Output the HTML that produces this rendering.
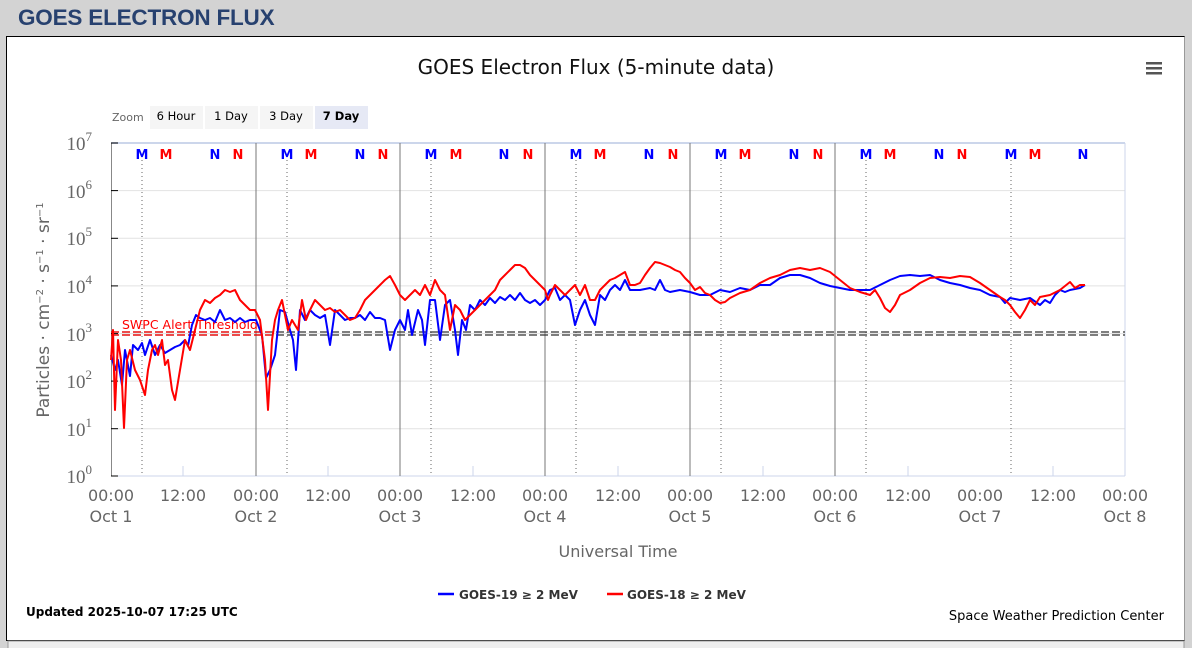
<!DOCTYPE html>
<html><head><meta charset="utf-8"><style>
body{margin:0;width:1192px;height:648px;background:#d3d3d3;overflow:hidden;font-family:"Liberation Sans",sans-serif;position:relative}
.hdr{position:absolute;left:18px;top:5px;font-size:22.5px;font-weight:bold;color:#27416f;letter-spacing:-0.2px}
.panel{position:absolute;left:6px;top:36px;width:1177px;height:603px;background:#fff;border:1px solid #000;border-right:1px solid #999}
svg{position:absolute;left:0;top:0}
</style></head><body>
<div class="hdr">GOES ELECTRON FLUX</div>
<div class="panel"></div>
<svg width="1192" height="648" font-family="DejaVu Sans, sans-serif">
<rect x="8" y="641" width="1176" height="10" fill="#eee" stroke="#999"/>
<text x="596" y="74" text-anchor="middle" font-size="20" fill="#111">GOES Electron Flux (5-minute data)</text>
<g fill="#555"><rect x="1146" y="62" width="16" height="2.5"/><rect x="1146" y="67" width="16" height="2.5"/><rect x="1146" y="72" width="16" height="2.5"/></g>
<text x="112" y="121" font-size="11" fill="#666">Zoom</text>
<rect x="150" y="106" width="53" height="23" fill="#f5f5f5"/><text x="176" y="120" font-size="11.5" text-anchor="middle">6 Hour</text>
<rect x="205" y="106" width="53" height="23" fill="#f5f5f5"/><text x="231" y="120" font-size="11.5" text-anchor="middle">1 Day</text>
<rect x="260" y="106" width="53" height="23" fill="#f5f5f5"/><text x="286" y="120" font-size="11.5" text-anchor="middle">3 Day</text>
<rect x="315" y="106" width="53" height="23" fill="#e6e9f5"/><text x="341" y="120" font-size="11.5" text-anchor="middle" font-weight="bold">7 Day</text>
<g stroke="#e2e2e2" stroke-width="1">
<line x1="111" x2="1125" y1="190.6" y2="190.6"/><line x1="111" x2="1125" y1="238.3" y2="238.3"/><line x1="111" x2="1125" y1="285.9" y2="285.9"/><line x1="111" x2="1125" y1="333.6" y2="333.6"/><line x1="111" x2="1125" y1="381.1" y2="381.1"/><line x1="111" x2="1125" y1="428.7" y2="428.7"/>
</g>
<line x1="111" x2="1125" y1="143" y2="143" stroke="#ccd6eb" stroke-width="2"/>
<line x1="111" x2="1125" y1="476" y2="476" stroke="#ccd6eb" stroke-width="1"/>
<line x1="1125" x2="1125" y1="143" y2="476" stroke="#ccd6eb"/>
<line x1="111.5" x2="111.5" y1="143" y2="476" stroke="#888"/>
<g stroke="#000"><line x1="111" x2="118" y1="143" y2="143"/><line x1="111" x2="118" y1="190.6" y2="190.6"/><line x1="111" x2="118" y1="238.3" y2="238.3"/><line x1="111" x2="118" y1="285.9" y2="285.9"/><line x1="111" x2="118" y1="333.6" y2="333.6"/><line x1="111" x2="118" y1="381.1" y2="381.1"/><line x1="111" x2="118" y1="428.7" y2="428.7"/><line x1="111" x2="118" y1="476" y2="476"/></g>
<g stroke="#777"><line x1="256" x2="256" y1="143" y2="476"/><line x1="400" x2="400" y1="143" y2="476"/><line x1="545" x2="545" y1="143" y2="476"/><line x1="690" x2="690" y1="143" y2="476"/><line x1="835" x2="835" y1="143" y2="476"/></g>
<g stroke="#666" stroke-dasharray="1,3"><line x1="142" x2="142" y1="160" y2="476"/><line x1="287" x2="287" y1="160" y2="476"/><line x1="431" x2="431" y1="160" y2="476"/><line x1="576" x2="576" y1="160" y2="476"/><line x1="721" x2="721" y1="160" y2="476"/><line x1="866" x2="866" y1="160" y2="476"/><line x1="1011" x2="1011" y1="160" y2="476"/></g>
<g stroke="#ccd6eb"><line x1="183" x2="183" y1="476" y2="466"/><line x1="328" x2="328" y1="476" y2="466"/><line x1="473" x2="473" y1="476" y2="466"/><line x1="618" x2="618" y1="476" y2="466"/><line x1="763" x2="763" y1="476" y2="466"/><line x1="908" x2="908" y1="476" y2="466"/><line x1="1053" x2="1053" y1="476" y2="466"/></g>
<g font-size="13" font-weight="bold" text-anchor="middle">
<text x="142" y="159" fill="#00f">M</text><text x="166" y="159" fill="red">M</text><text x="215" y="159" fill="#00f">N</text><text x="238" y="159" fill="red">N</text>
<text x="287" y="159" fill="#00f">M</text><text x="311" y="159" fill="red">M</text><text x="360" y="159" fill="#00f">N</text><text x="383" y="159" fill="red">N</text>
<text x="431" y="159" fill="#00f">M</text><text x="456" y="159" fill="red">M</text><text x="504" y="159" fill="#00f">N</text><text x="528" y="159" fill="red">N</text>
<text x="576" y="159" fill="#00f">M</text><text x="600" y="159" fill="red">M</text><text x="649" y="159" fill="#00f">N</text><text x="673" y="159" fill="red">N</text>
<text x="721" y="159" fill="#00f">M</text><text x="745" y="159" fill="red">M</text><text x="794" y="159" fill="#00f">N</text><text x="818" y="159" fill="red">N</text>
<text x="866" y="159" fill="#00f">M</text><text x="890" y="159" fill="red">M</text><text x="939" y="159" fill="#00f">N</text><text x="962" y="159" fill="red">N</text>
<text x="1011" y="159" fill="#00f">M</text><text x="1035" y="159" fill="red">M</text><text x="1083" y="159" fill="#00f">N</text>
</g>
<g stroke-dasharray="8,3" stroke-width="1.2"><line x1="111" x2="1125" y1="332" y2="332" stroke="#333"/><line x1="111" x2="1125" y1="335" y2="335" stroke="#333"/><line x1="111" x2="270" y1="332" y2="332" stroke="red"/><line x1="111" x2="270" y1="335" y2="335" stroke="red"/></g>
<text x="122" y="329" font-size="12.5" fill="red">SWPC Alert Threshold</text>
<polyline fill="none" stroke="#00f" stroke-width="2" stroke-linejoin="round" points="111,355 115,370 118,360 122,385 125,350 130,376 133,345 138,350 142,343 145,355 150,340 155,355 160,345 165,353 170,350 175,347 180,345 185,340 188,346 192,325 196,315 200,318 205,320 210,318 215,322 220,310 225,320 230,318 235,322 240,318 245,322 250,320 256,320 262,335 266,378 270,370 275,355 280,310 285,312 290,330 293,340 296,370 300,310 305,320 310,310 315,315 320,318 325,315 330,345 335,310 340,315 345,320 350,318 355,318 360,315 365,320 370,312 375,318 380,318 385,320 390,350 395,330 400,320 405,330 408,310 412,335 418,310 422,320 425,345 430,300 435,300 440,340 445,305 450,300 455,330 458,355 462,320 466,330 470,305 475,310 480,300 485,305 490,298 495,303 500,297 505,300 510,295 515,300 520,293 525,300 530,303 535,300 540,305 545,300 550,290 555,288 560,300 565,295 570,300 575,325 580,310 585,300 590,315 595,325 600,295 605,300 610,290 615,285 620,290 625,280 630,290 640,290 650,288 655,290 660,280 665,290 670,292 680,290 690,292 700,295 710,295 720,290 730,292 740,288 750,290 760,285 770,285 780,278 790,275 800,275 810,278 820,283 830,286 840,288 850,290 860,290 870,290 880,285 890,280 900,276 910,275 920,276 930,275 940,280 950,283 960,285 970,288 980,290 990,295 1000,297 1005,303 1010,298 1020,300 1030,298 1040,305 1045,300 1050,303 1055,295 1060,290 1065,292 1070,290 1080,288 1085,285"/>
<polyline fill="none" stroke="red" stroke-width="2" stroke-linejoin="round" points="111,360 113,330 115,410 118,340 121,360 124,428 127,360 130,350 135,370 140,380 145,395 148,370 152,350 155,345 158,355 162,340 165,365 168,360 172,390 175,400 180,370 185,340 190,350 195,330 200,310 205,300 210,303 215,298 220,295 225,290 230,292 235,290 240,300 245,305 250,310 255,310 260,320 265,360 268,410 272,340 275,320 278,310 282,300 285,315 288,330 292,320 298,330 302,300 306,320 310,310 315,300 320,305 325,310 330,308 335,312 340,310 345,315 350,320 355,318 360,310 365,300 370,295 375,290 380,285 385,280 390,276 395,285 400,295 405,300 410,295 415,290 420,295 425,285 430,295 435,280 440,290 445,295 450,330 455,305 460,310 465,320 470,315 475,310 480,305 485,300 490,295 495,290 500,280 505,275 510,270 515,265 520,265 525,268 530,275 535,280 540,285 545,290 548,300 550,295 555,285 560,290 565,295 570,290 575,285 580,295 585,285 590,300 595,300 600,290 605,285 610,280 615,278 620,275 625,272 630,285 635,285 640,283 645,275 650,268 655,262 660,263 665,265 670,267 675,270 680,272 685,278 690,283 695,290 700,287 705,293 710,295 715,300 720,303 725,302 730,298 740,293 750,290 760,283 770,278 780,275 790,270 800,268 810,270 820,268 830,272 840,280 850,288 860,292 870,295 875,290 880,298 885,308 890,312 895,305 900,295 910,290 920,283 930,278 940,277 950,278 960,276 970,277 980,283 990,290 1000,297 1005,300 1010,305 1015,312 1020,318 1025,310 1030,300 1035,305 1040,297 1050,295 1060,290 1070,282 1075,288 1080,285 1085,285"/>
<g font-family="Liberation Serif, serif" font-size="19" fill="#666" text-anchor="end">
<text x="92" y="150">10<tspan dy="-9" font-size="13">7</tspan></text>
<text x="92" y="198">10<tspan dy="-9" font-size="13">6</tspan></text>
<text x="92" y="245">10<tspan dy="-9" font-size="13">5</tspan></text>
<text x="92" y="293">10<tspan dy="-9" font-size="13">4</tspan></text>
<text x="92" y="341">10<tspan dy="-9" font-size="13">3</tspan></text>
<text x="92" y="388">10<tspan dy="-9" font-size="13">2</tspan></text>
<text x="92" y="436">10<tspan dy="-9" font-size="13">1</tspan></text>
<text x="92" y="483">10<tspan dy="-9" font-size="13">0</tspan></text>
</g>
<text transform="translate(49,310) rotate(-90)" text-anchor="middle" font-size="17" fill="#666">Particles · cm<tspan dy="-6" font-size="10">−2</tspan><tspan dy="6"> · s</tspan><tspan dy="-6" font-size="10">−1</tspan><tspan dy="6"> · sr</tspan><tspan dy="-6" font-size="10">−1</tspan></text>
<g font-size="16" fill="#666" text-anchor="middle">
<text x="111" y="501">00:00</text><text x="183" y="501">12:00</text><text x="256" y="501">00:00</text><text x="328" y="501">12:00</text><text x="400" y="501">00:00</text><text x="473" y="501">12:00</text><text x="545" y="501">00:00</text><text x="618" y="501">12:00</text><text x="690" y="501">00:00</text><text x="763" y="501">12:00</text><text x="835" y="501">00:00</text><text x="908" y="501">12:00</text><text x="980" y="501">00:00</text><text x="1053" y="501">12:00</text><text x="1125" y="501">00:00</text>
<text x="111" y="522">Oct 1</text><text x="256" y="522">Oct 2</text><text x="400" y="522">Oct 3</text><text x="545" y="522">Oct 4</text><text x="690" y="522">Oct 5</text><text x="835" y="522">Oct 6</text><text x="980" y="522">Oct 7</text><text x="1125" y="522">Oct 8</text>
<text x="618" y="557">Universal Time</text>
</g>
<line x1="438" x2="454" y1="594" y2="594" stroke="#00f" stroke-width="2.5"/>
<text x="459" y="599" font-size="12" font-weight="bold" fill="#333">GOES-19 ≥ 2 MeV</text>
<line x1="607" x2="623" y1="594" y2="594" stroke="red" stroke-width="2.5"/>
<text x="627" y="599" font-size="12" font-weight="bold" fill="#333">GOES-18 ≥ 2 MeV</text>
<text x="26" y="616" font-size="12" font-weight="bold" fill="#000">Updated 2025-10-07 17:25 UTC</text>
<text x="1164" y="620" font-size="13" text-anchor="end" fill="#000">Space Weather Prediction Center</text>
</svg>
</body></html>
